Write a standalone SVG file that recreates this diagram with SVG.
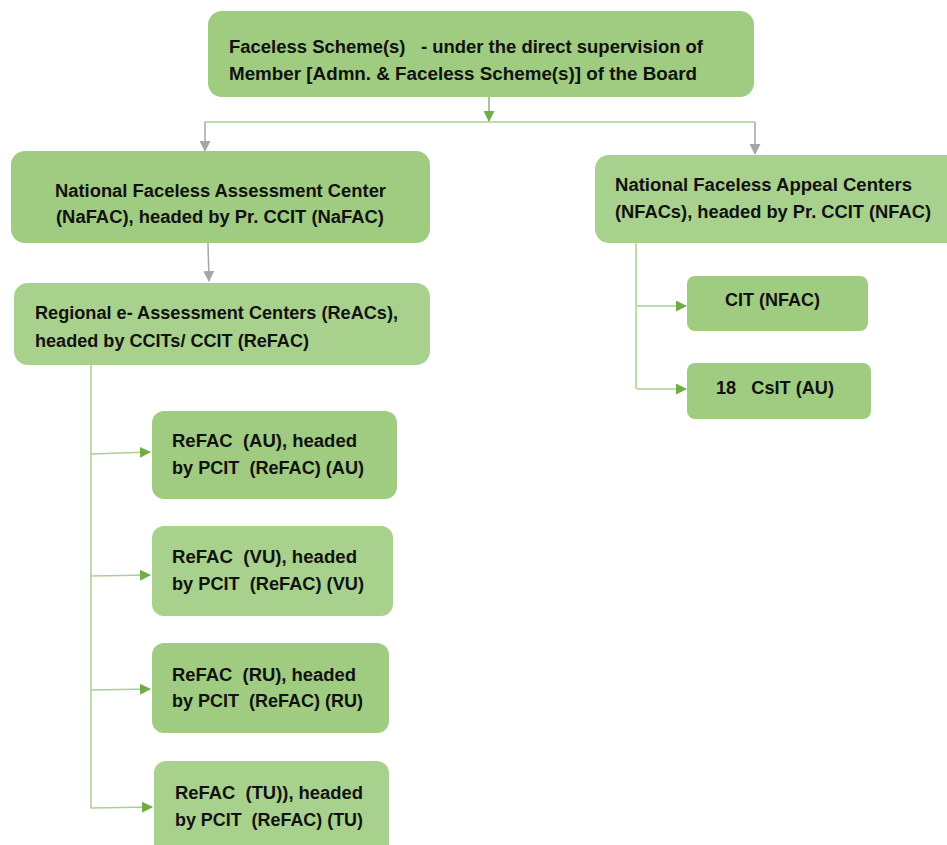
<svg xmlns="http://www.w3.org/2000/svg" width="947" height="845" viewBox="0 0 947 845">
<style>
text{font-family:"Liberation Sans","Open Sans",sans-serif;font-weight:bold;font-size:18px;fill:#111;white-space:pre}
.d{fill:#9fcc80}
.l{fill:#a9d18e}
.g{stroke:#a9d18e;stroke-width:1.5;fill:none}
.gg{stroke:#8faf7a;stroke-width:1.5;fill:none}
.gr{stroke:#a6a6a6;stroke-width:1.5;fill:none}
</style>
<defs>
<marker id="ag" markerWidth="11" markerHeight="11" refX="10" refY="5.5" orient="auto" markerUnits="userSpaceOnUse"><path d="M0,0 L11,5.5 L0,11 z" fill="#70ad47"/></marker>
<marker id="ay" markerWidth="11" markerHeight="11" refX="10" refY="5.5" orient="auto" markerUnits="userSpaceOnUse"><path d="M0,0 L11,5.5 L0,11 z" fill="#a6a6a6"/></marker>
</defs>
<rect width="947" height="845" fill="#fff"/>
<g id="connectors">
<path class="gg" d="M489,97 V121" marker-end="url(#ag)"/>
<path class="g" d="M205,122 H755"/>
<path class="gr" d="M205,122 V151" marker-end="url(#ay)"/>
<path class="gr" d="M755,122 V154" marker-end="url(#ay)"/>
<path class="gr" d="M208,243 L209,281" marker-end="url(#ay)"/>
<path class="g" d="M91,365 V808"/>
<path class="g" d="M91,454 L150,452" marker-end="url(#ag)"/>
<path class="g" d="M91,576 L150,575" marker-end="url(#ag)"/>
<path class="g" d="M91,690 L150,689" marker-end="url(#ag)"/>
<path class="g" d="M91,808 L152,807" marker-end="url(#ag)"/>
<path class="g" d="M636,243 V389"/>
<path class="g" d="M637,306 H686" marker-end="url(#ag)"/>
<path class="g" d="M637,389 H686" marker-end="url(#ag)"/>
</g>
<g id="top">
<rect class="d" x="208" y="11" width="546" height="86" rx="14"/>
<text x="229" y="53" textLength="474" lengthAdjust="spacingAndGlyphs">Faceless Scheme(s)   - under the direct supervision of</text>
<text x="229" y="80" textLength="468" lengthAdjust="spacingAndGlyphs">Member [Admn. &amp; Faceless Scheme(s)] of the Board</text>
</g>
<g id="nafac">
<rect class="d" x="11" y="151" width="419" height="92" rx="14"/>
<text x="55" y="197" textLength="331" lengthAdjust="spacingAndGlyphs">National Faceless Assessment Center</text>
<text x="56" y="223" textLength="328" lengthAdjust="spacingAndGlyphs">(NaFAC), headed by Pr. CCIT (NaFAC)</text>
</g>
<g id="reacs">
<rect class="l" x="14" y="283" width="416" height="82" rx="14"/>
<text x="35" y="319" textLength="363" lengthAdjust="spacingAndGlyphs">Regional e- Assessment Centers (ReACs),</text>
<text x="35" y="347" textLength="274" lengthAdjust="spacingAndGlyphs">headed by CCITs/ CCIT (ReFAC)</text>
</g>
<g id="nfacs">
<rect class="l" x="595" y="155" width="370" height="88" rx="14"/>
<text x="615" y="191" textLength="297" lengthAdjust="spacingAndGlyphs">National Faceless Appeal Centers</text>
<text x="615" y="218" textLength="316" lengthAdjust="spacingAndGlyphs">(NFACs), headed by Pr. CCIT (NFAC)</text>
</g>
<g id="cit">
<rect class="d" x="687" y="276" width="181" height="55" rx="8"/>
<text x="725" y="306" textLength="95" lengthAdjust="spacingAndGlyphs">CIT (NFAC)</text>
</g>
<g id="csit">
<rect class="d" x="687" y="363" width="184" height="56" rx="8"/>
<text x="716" y="394" textLength="118" lengthAdjust="spacingAndGlyphs">18   CsIT (AU)</text>
</g>
<g id="au">
<rect class="d" x="152" y="411" width="245" height="88" rx="12"/>
<text x="172" y="447" textLength="185" lengthAdjust="spacingAndGlyphs">ReFAC  (AU), headed</text>
<text x="172" y="474" textLength="192" lengthAdjust="spacingAndGlyphs">by PCIT  (ReFAC) (AU)</text>
</g>
<g id="vu">
<rect class="l" x="152" y="526" width="241" height="90" rx="12"/>
<text x="172" y="563" textLength="185" lengthAdjust="spacingAndGlyphs">ReFAC  (VU), headed</text>
<text x="172" y="590" textLength="192" lengthAdjust="spacingAndGlyphs">by PCIT  (ReFAC) (VU)</text>
</g>
<g id="ru">
<rect class="d" x="152" y="643" width="237" height="90" rx="12"/>
<text x="172" y="681" textLength="184" lengthAdjust="spacingAndGlyphs">ReFAC  (RU), headed</text>
<text x="172" y="707" textLength="191" lengthAdjust="spacingAndGlyphs">by PCIT  (ReFAC) (RU)</text>
</g>
<g id="tu">
<rect class="l" x="154" y="761" width="235" height="100" rx="12"/>
<text x="175" y="799" textLength="188" lengthAdjust="spacingAndGlyphs">ReFAC  (TU)), headed</text>
<text x="175" y="826" textLength="188" lengthAdjust="spacingAndGlyphs">by PCIT  (ReFAC) (TU)</text>
</g>
</svg>
